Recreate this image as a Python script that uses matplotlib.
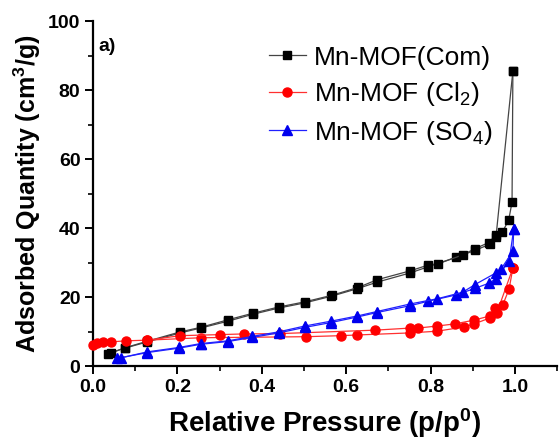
import matplotlib
matplotlib.use("Agg")
import matplotlib.pyplot as plt
from matplotlib.lines import Line2D
from matplotlib.ticker import MultipleLocator

plt.rcParams['font.family'] = ['Liberation Sans', 'DejaVu Sans']
plt.rcParams['mathtext.default'] = 'regular'

# Mn-MOF(Com) - adsorption / desorption
com_ads_p = [0.036, 0.076, 0.129, 0.207, 0.255, 0.320, 0.379, 0.440, 0.502, 0.564, 0.626,
             0.673, 0.752, 0.795, 0.860, 0.905, 0.940, 0.955, 0.995]
com_ads_q = [3.6, 5.2, 7.0, 9.6, 11.0, 13.0, 15.0, 16.8, 18.3, 20.2, 22.4,
             24.3, 27.0, 28.8, 31.5, 33.5, 35.3, 37.5, 85.5]
com_des_p = [0.995, 0.993, 0.985, 0.970, 0.955, 0.938, 0.905, 0.876, 0.817, 0.795, 0.752,
             0.673, 0.629, 0.566, 0.502, 0.440, 0.379, 0.320, 0.255, 0.207, 0.129, 0.076, 0.043]
com_des_q = [85.5, 47.5, 42.3, 38.8, 38.0, 35.8, 34.0, 32.2, 29.6, 29.3, 27.6,
             25.0, 22.8, 20.5, 18.6, 17.1, 15.3, 13.4, 11.2, 9.9, 7.2, 5.3, 3.8]

# Mn-MOF (Cl2)
cl_ads_p = [0.000, 0.010, 0.024, 0.043, 0.078, 0.129, 0.257, 0.505, 0.588, 0.626, 0.752,
            0.816, 0.878, 0.903, 0.940, 0.957, 0.995]
cl_ads_q = [6.2, 6.6, 6.9, 7.0, 7.3, 7.5, 8.2, 8.5, 8.8, 9.0, 9.6,
            10.1, 11.3, 12.2, 13.9, 15.4, 28.4]
cl_des_p = [0.995, 0.986, 0.971, 0.952, 0.940, 0.903, 0.857, 0.816, 0.770, 0.752, 0.669,
            0.443, 0.357, 0.300, 0.207, 0.129]
cl_des_q = [28.4, 22.3, 17.7, 16.8, 14.5, 13.3, 12.2, 11.6, 11.0, 11.0, 10.4,
            9.4, 9.3, 9.1, 8.8, 7.5]

# Mn-MOF (SO4)
so_ads_p = [0.057, 0.129, 0.205, 0.255, 0.320, 0.378, 0.440, 0.502, 0.564, 0.626, 0.673,
            0.752, 0.795, 0.860, 0.905, 0.938, 0.955, 0.986, 0.997]
so_ads_q = [2.2, 3.9, 5.2, 6.3, 7.1, 8.3, 9.6, 11.2, 12.6, 14.2, 15.5,
            17.5, 18.8, 20.6, 22.5, 24.0, 25.3, 30.4, 39.7]
so_des_p = [0.997, 0.995, 0.967, 0.955, 0.905, 0.876, 0.816, 0.752, 0.673, 0.626, 0.564,
            0.502, 0.440, 0.378, 0.320, 0.255, 0.205, 0.129, 0.067]
so_des_q = [39.7, 33.3, 28.1, 27.0, 23.6, 21.4, 19.5, 18.0, 15.8, 14.5, 13.0,
            11.6, 9.9, 8.6, 7.3, 6.5, 5.4, 4.1, 2.4]

labels = ['Mn-MOF(Com)', 'Mn-MOF (Cl$_2$)', 'Mn-MOF (SO$_4$)']

fig = plt.figure(figsize=(5.6, 4.48), dpi=100)
ax = fig.add_axes([0.166, 0.183, 0.829, 0.770])

styles = [
    dict(color='#444444', marker='s', mfc='black', mec='black', ms=5.5),
    dict(color='#ff3030', marker='o', mfc='#ff0000', mec='#ff0000', ms=6.5),
    dict(color='#2020ff', marker='^', mfc='#0000ee', mec='#0000ee', ms=6.5),
]
data = [(com_ads_p, com_ads_q, com_des_p, com_des_q),
        (cl_ads_p, cl_ads_q, cl_des_p, cl_des_q),
        (so_ads_p, so_ads_q, so_des_p, so_des_q)]

for (ap, aq, dp, dq), st in zip(data, styles):
    ax.plot(ap, aq, lw=0.9, clip_on=False, zorder=3, **st)
    ax.plot(dp, dq, lw=0.9, clip_on=False, zorder=3, **st)

ax.set_xlim(0, 1.1)
ax.set_ylim(0, 100)
ax.xaxis.set_minor_locator(MultipleLocator(0.1))
ax.yaxis.set_major_locator(MultipleLocator(20))
ax.yaxis.set_minor_locator(MultipleLocator(10))
ax.set_xticks([0, 0.2, 0.4, 0.6, 0.8, 1.0])
ax.set_xticklabels(['0.0', '0.2', '0.4', '0.6', '0.8', '1.0'])

for s in ['top', 'right']:
    ax.spines[s].set_visible(False)
for s in ['left', 'bottom']:
    ax.spines[s].set_linewidth(1.6)

ax.tick_params(which='major', direction='out', length=6, width=1.4, labelsize=14, pad=3)
ax.tick_params(which='minor', direction='out', length=3.5, width=1.2)
for t in ax.get_xticklabels() + ax.get_yticklabels():
    t.set_fontweight('bold')

ax.set_xlabel('Relative Pressure (p/p$^0$)', fontsize=20, fontweight='bold', labelpad=8)
ax.set_ylabel('Adsorbed Quantity (cm$^3$/g)', fontsize=18, fontweight='bold', labelpad=4)

ax.text(0.012, 0.95, 'a)', transform=ax.transAxes, fontsize=14, fontweight='bold', va='top')

handles = [Line2D([], [], lw=0.9, **st) for st in styles]
ax.legend(handles, labels, loc='upper left', bbox_to_anchor=(0.345, 0.975),
          frameon=False, fontsize=19, handlelength=1.4, handletextpad=0.3,
          labelspacing=0.4, borderaxespad=0.2)

fig.savefig('out.png', dpi=100)
